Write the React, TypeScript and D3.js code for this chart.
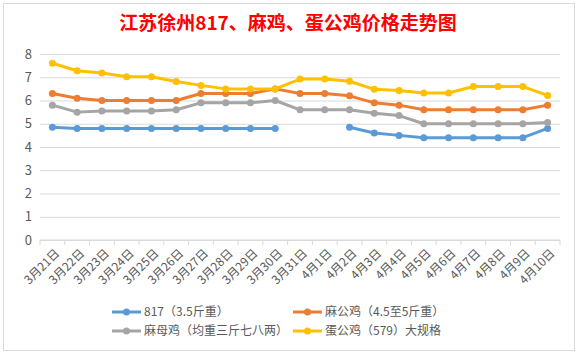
import React, { useEffect, useRef } from "react";
import * as d3 from "d3";

const dates = [
  "3月21日", "3月22日", "3月23日", "3月24日", "3月25日", "3月26日", "3月27日",
  "3月28日", "3月29日", "3月30日", "3月31日", "4月1日", "4月2日", "4月3日",
  "4月4日", "4月5日", "4月6日", "4月7日", "4月8日", "4月9日", "4月10日",
];

const s817 = [4.85, 4.8, 4.8, 4.8, 4.8, 4.8, 4.8, 4.8, 4.8, 4.8, null, null, 4.85, 4.6, 4.5, 4.4, 4.4, 4.4, 4.4, 4.4, 4.8];
const maGongJi = [6.3, 6.1, 6.0, 6.0, 6.0, 6.0, 6.3, 6.3, 6.3, 6.5, 6.3, 6.3, 6.2, 5.9, 5.8, 5.6, 5.6, 5.6, 5.6, 5.6, 5.8];
const maMuJi = [5.8, 5.5, 5.55, 5.55, 5.55, 5.6, 5.9, 5.9, 5.9, 6.0, 5.6, 5.6, 5.6, 5.45, 5.35, 5.0, 5.0, 5.0, 5.0, 5.0, 5.05];
const danGongJi = [7.6, 7.28, 7.18, 7.02, 7.02, 6.82, 6.65, 6.5, 6.5, 6.5, 6.92, 6.92, 6.83, 6.48, 6.43, 6.32, 6.32, 6.6, 6.6, 6.6, 6.22];

const seriesNames = ["817（3.5斤重）", "麻公鸡（4.5至5斤重）", "麻母鸡（均重三斤七八两）", "蛋公鸡（579）大规格"];
const seriesColors = ["#5b9bd5", "#ed7d31", "#a5a5a5", "#ffc000"];
const yTicks = [0, 1, 2, 3, 4, 5, 6, 7, 8];

const W = 578;
const H = 354;
const font = "'Noto Sans CJK SC', 'Noto Sans', sans-serif";

export default function App() {
  const ref = useRef<SVGSVGElement>(null);

  useEffect(() => {
    const svg = d3.select(ref.current);
    svg.selectAll("*").remove();

    const margin = { top: 54, right: 18, bottom: 114, left: 40 };

    const x = d3
      .scaleBand()
      .domain(dates)
      .range([margin.left, W - margin.right]);

    const y = d3
      .scaleLinear()
      .domain([0, 8])
      .range([H - margin.bottom, margin.top]);

    // chart frame
    svg
      .append("rect")
      .attr("x", 3.5)
      .attr("y", 3.5)
      .attr("width", W - 7)
      .attr("height", H - 7)
      .attr("fill", "#fff")
      .attr("stroke", "#d9d9d9");

    svg
      .append("text")
      .attr("x", 288)
      .attr("y", 30)
      .attr("text-anchor", "middle")
      .attr("fill", "#ff0000")
      .attr("font-weight", "bold")
      .attr("font-size", 19)
      .attr("font-family", font)
      .text("江苏徐州817、麻鸡、蛋公鸡价格走势图");

    // grid + y labels
    const yAxis = (g: any) =>
      g
        .attr("transform", `translate(${margin.left},0)`)
        .call(
          d3
            .axisLeft(y)
            .tickValues(yTicks)
            .tickSize(-(W - margin.left - margin.right))
            .tickPadding(8)
        )
        .call((g: any) => g.select(".domain").remove())
        .call((g: any) => g.selectAll(".tick line").attr("stroke", "#d9d9d9"))
        .call((g: any) =>
          g
            .selectAll(".tick text")
            .attr("fill", "#595959")
            .attr("font-size", 13)
            .attr("font-family", font)
        );
    svg.append("g").call(yAxis);

    // x axis
    const xAxis = (g: any) =>
      g
        .attr("transform", `translate(0,${y(0)})`)
        .call(d3.axisBottom(x).tickSize(0).tickFormat(() => ""))
        .call((g: any) => g.select(".domain").attr("stroke", "#d9d9d9").attr("d", `M${margin.left},0H${W - margin.right}`));
    svg.append("g").call(xAxis);

    const bounds = dates.map((d) => x(d) as number).concat([W - margin.right]);
    svg
      .append("g")
      .selectAll("line")
      .data(bounds)
      .join("line")
      .attr("x1", (d: number) => d)
      .attr("x2", (d: number) => d)
      .attr("y1", y(0))
      .attr("y2", y(0) + 5)
      .attr("stroke", "#d9d9d9");

    svg
      .append("g")
      .selectAll("text")
      .data(dates)
      .join("text")
      .attr("transform", (d: string) => `translate(${(x(d) as number) + x.bandwidth() / 2 + 5},${y(0) + 11}) rotate(-45)`)
      .attr("text-anchor", "end")
      .attr("dy", "0.35em")
      .attr("fill", "#595959")
      .attr("font-size", 12)
      .attr("font-family", font)
      .text((d: string) => d);

    const allSeries = [s817, maGongJi, maMuJi, danGongJi];
    const cx = (i: number) => (x(dates[i]) as number) + x.bandwidth() / 2;

    const line = d3
      .line<number | null>()
      .defined((d) => d != null)
      .x((_, i) => cx(i))
      .y((d) => y(d as number));

    const plot = svg.append("g").attr("class", "plot-area");
    allSeries.forEach((vals, k) => {
      plot
        .append("path")
        .attr("d", line(vals))
        .attr("fill", "none")
        .attr("stroke", seriesColors[k])
        .attr("stroke-width", 3)
        .attr("stroke-linejoin", "round");
      plot
        .append("g")
        .selectAll("circle")
        .data(vals.map((v, i) => ({ v, i })).filter((d) => d.v != null))
        .join("circle")
        .attr("cx", (d: any) => cx(d.i))
        .attr("cy", (d: any) => y(d.v))
        .attr("r", 3.5)
        .attr("fill", seriesColors[k]);
    });

    // legend
    const legendPos = [
      { x: 112, y: 312 },
      { x: 293, y: 312 },
      { x: 112, y: 331 },
      { x: 293, y: 331 },
    ];
    const leg = svg
      .append("g")
      .selectAll("g")
      .data(seriesNames)
      .join("g")
      .attr("transform", (_: string, i: number) => `translate(${legendPos[i].x},${legendPos[i].y})`);
    leg
      .append("line")
      .attr("x1", 0)
      .attr("x2", 29)
      .attr("stroke", (_: string, i: number) => seriesColors[i])
      .attr("stroke-width", 3);
    leg
      .append("circle")
      .attr("cx", 14.5)
      .attr("r", 3.5)
      .attr("fill", (_: string, i: number) => seriesColors[i]);
    leg
      .append("text")
      .attr("x", 32)
      .attr("dy", "0.35em")
      .attr("fill", "#595959")
      .attr("font-size", 12)
      .attr("font-family", font)
      .text((d: string) => d);
  }, []);

  return (
    <svg
      ref={ref}
      width={W}
      height={H}
      style={{ position: "absolute", left: 0, top: 0, background: "#fff" }}
    />
  );
}
